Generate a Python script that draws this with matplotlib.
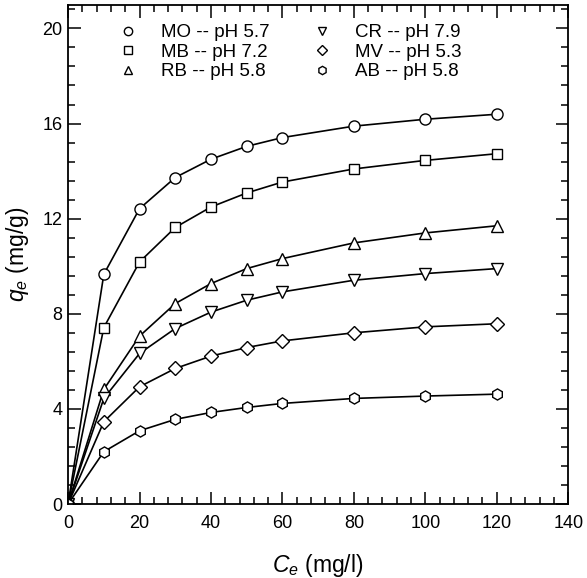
import matplotlib
matplotlib.use("Agg")
import matplotlib.pyplot as plt
from matplotlib.ticker import MultipleLocator

plt.rcParams['font.family'] = ['Liberation Sans', 'DejaVu Sans']
plt.rcParams['mathtext.fontset'] = 'custom'
plt.rcParams['mathtext.rm'] = 'Liberation Sans'
plt.rcParams['mathtext.it'] = 'Liberation Sans:italic'

ce = [0, 10, 20, 30, 40, 50, 60, 80, 100, 120]
mo = [0, 9.66, 12.42, 13.73, 14.50, 15.04, 15.41, 15.89, 16.18, 16.39]
mb = [0, 7.42, 10.18, 11.63, 12.49, 13.08, 13.54, 14.09, 14.45, 14.73]
rb = [0, 4.82, 7.06, 8.43, 9.27, 9.90, 10.32, 10.98, 11.40, 11.70]
cr = [0, 4.44, 6.33, 7.38, 8.07, 8.57, 8.92, 9.41, 9.69, 9.90]
mv = [0, 3.46, 4.93, 5.70, 6.22, 6.58, 6.86, 7.20, 7.45, 7.58]
ab = [0, 2.20, 3.08, 3.56, 3.85, 4.06, 4.23, 4.44, 4.54, 4.62]

labels = ['MO -- pH 5.7', 'MB -- pH 7.2', 'RB -- pH 5.8',
          'CR -- pH 7.9', 'MV -- pH 5.3', 'AB -- pH 5.8']
series = [mo, mb, rb, cr, mv, ab]
markers = ['o', 's', '^', 'v', 'D', 'h']
msizes = [8, 7, 8, 8, 7, 8]

fig = plt.figure(figsize=(5.87, 5.78), dpi=100)
ax = fig.add_axes([0.116, 0.128, 0.852, 0.864])

for y, m, ms, lab in zip(series, markers, msizes, labels):
    ax.plot(ce, y, color='black', lw=1.2, marker=m, ms=ms,
            mfc='white', mec='black', mew=1.0, label=lab)

ax.set_xlim(0, 140)
ax.set_ylim(0, 21)
ax.xaxis.set_major_locator(MultipleLocator(20))
ax.xaxis.set_minor_locator(MultipleLocator(4))
ax.yaxis.set_major_locator(MultipleLocator(4))
ax.yaxis.set_minor_locator(MultipleLocator(0.8))
ax.tick_params(which='both', direction='in', top=True, right=True,
               labelsize=13, width=1.1)
ax.tick_params(which='major', length=9)
ax.tick_params(axis='x', which='major', pad=8)
ax.tick_params(axis='y', which='major', pad=4)
ax.tick_params(which='minor', length=5)
for s in ax.spines.values():
    s.set_linewidth(1.3)

ax.set_xlabel(r'$C_e$ (mg/l)', fontsize=16.5, labelpad=14)
ax.set_ylabel(r'$q_e$ (mg/g)', fontsize=16.5, labelpad=8)

leg = ax.legend(loc='upper left', ncol=2, frameon=False, fontsize=13.5,
                bbox_to_anchor=(0.202, 0.958), bbox_transform=fig.transFigure,
                borderpad=0, borderaxespad=0,
                handlelength=1.0, handletextpad=1.26,
                columnspacing=2.27, labelspacing=0.12, numpoints=1,
                markerscale=0.75)
for h in leg.legend_handles:
    h.set_linestyle('None')

fig.savefig('out.png', dpi=100)
